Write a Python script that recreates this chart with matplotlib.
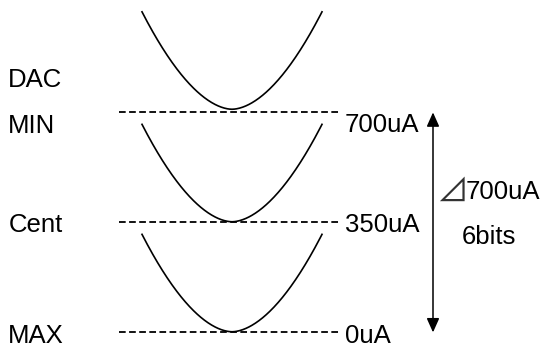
import numpy as np
import matplotlib
matplotlib.use("Agg")
import matplotlib.pyplot as plt

# DAC current levels (uA) and their labels
levels_uA = [700, 350, 0]
level_names = ["MIN", "Cent", "MAX"]
level_labels = ["700uA", "350uA", "0uA"]
curve_bottom_uA = [710, 352, 2]   # where each U-shaped curve bottoms out
curve_rise_uA = 310               # how far each curve climbs at its ends
span_symbol = "\u22bf"
span_label = "700uA"
bits_label = "6bits"
top_label = "DAC"

W, H = 542, 352
# vertical scale: pixel row -> uA
PX0, PX_PER_UA = 332.4, 0.31429


def px_to_ua(y):
    return (PX0 - y) / PX_PER_UA


fig = plt.figure(figsize=(W / 100, H / 100), dpi=100)
fig.patch.set_facecolor("white")
ax = fig.add_axes([0, 0, 1, 1])
ax.set_xlim(0, W)
ax.set_ylim(px_to_ua(H), px_to_ua(0))
ax.axis("off")

font = ["Liberation Sans", "DejaVu Sans"]
fs = 18.5

# dashed reference lines
for lvl in levels_uA:
    ax.plot([119, 341], [lvl, lvl], color="black", lw=1.3,
            linestyle=(0, (3.7, 1.9)), solid_capstyle="butt")

# U-shaped curves
t = np.linspace(-1, 1, 301)
for bot in curve_bottom_uA:
    ax.plot(232 + 90 * t, bot + curve_rise_uA * np.abs(t) ** 1.8,
            color="black", lw=1.2)

# double arrow spanning full range
ax.annotate("", xy=(433, max(levels_uA)), xytext=(433, min(levels_uA)),
            arrowprops=dict(arrowstyle="<|-|>,head_length=0.85,head_width=0.38",
                            color="black", lw=1.1, shrinkA=0, shrinkB=0,
                            mutation_scale=10))

# left-side names
name_baselines = [133.3, 232.3, 343.0]
ax.text(8.3, px_to_ua(86.7), top_label, fontsize=fs, family=font,
        ha="left", va="baseline")
for name, yb in zip(level_names, name_baselines):
    ax.text(8.3, px_to_ua(yb), name, fontsize=fs, family=font,
            ha="left", va="baseline")

# right-side current values
value_baselines = [132.3, 232.3, 343.3]
for lab, yb in zip(level_labels, value_baselines):
    ax.text(344.5, px_to_ua(yb), lab, fontsize=fs, family=font,
            ha="left", va="baseline")

ax.text(437, px_to_ua(202), span_symbol, fontsize=23,
        family=["Noto Sans CJK JP", "DejaVu Sans"], color="#333333",
        ha="left", va="baseline")
ax.text(466, px_to_ua(199.3), span_label, fontsize=fs, family=font,
        ha="left", va="baseline")
ax.text(461.7, px_to_ua(244), bits_label, fontsize=fs, family=font,
        ha="left", va="baseline")

fig.savefig("out.png", dpi=100, facecolor="white")
